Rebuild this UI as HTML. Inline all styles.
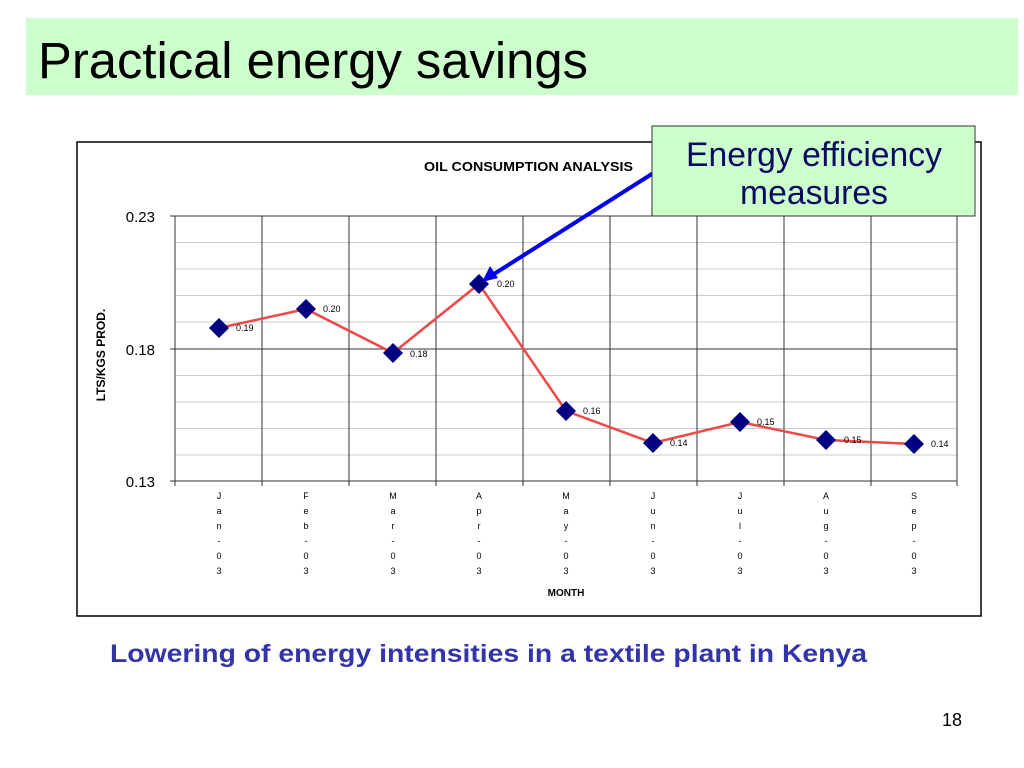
<!DOCTYPE html>
<html><head><style>
body{margin:0;width:1024px;height:768px;background:#fff;position:relative;overflow:hidden;font-family:"Liberation Sans",sans-serif}
.t{position:absolute;left:26px;top:18px;width:992px;height:77px;background:#ccffcc}
</style></head><body>
<div class="t"></div>
<svg width="1024" height="768" style="position:absolute;left:0;top:0" font-family="Liberation Sans, sans-serif">
<text x="38" y="78" font-size="51" textLength="550" lengthAdjust="spacingAndGlyphs">Practical energy savings</text>
<rect x="77" y="142" width="904" height="474" fill="#fff" stroke="#000" stroke-width="1.5"/>
<text x="424" y="171" font-size="13" font-weight="bold" textLength="209" lengthAdjust="spacingAndGlyphs">OIL CONSUMPTION ANALYSIS</text>
<g stroke="#ccc" stroke-width="1">
<line x1="175" x2="957" y1="242.5" y2="242.5"/><line x1="175" x2="957" y1="269" y2="269"/><line x1="175" x2="957" y1="295.5" y2="295.5"/><line x1="175" x2="957" y1="322" y2="322"/>
<line x1="175" x2="957" y1="375.5" y2="375.5"/><line x1="175" x2="957" y1="402" y2="402"/><line x1="175" x2="957" y1="428.5" y2="428.5"/><line x1="175" x2="957" y1="455" y2="455"/>
</g>
<g stroke="#333" stroke-width="1">
<line x1="170" x2="957" y1="216" y2="216"/><line x1="170" x2="957" y1="349" y2="349"/><line x1="170" x2="957" y1="481" y2="481"/>
<line x1="175" x2="175" y1="216" y2="486"/><line x1="262" x2="262" y1="216" y2="486"/><line x1="349" x2="349" y1="216" y2="486"/><line x1="436" x2="436" y1="216" y2="486"/><line x1="523" x2="523" y1="216" y2="486"/><line x1="610" x2="610" y1="216" y2="486"/><line x1="697" x2="697" y1="216" y2="486"/><line x1="784" x2="784" y1="216" y2="486"/><line x1="871" x2="871" y1="216" y2="486"/><line x1="957" x2="957" y1="216" y2="486"/>
</g>
<g font-size="15" text-anchor="end"><text x="155" y="222">0.23</text><text x="155" y="355">0.18</text><text x="155" y="487">0.13</text></g>
<text transform="translate(105,355) rotate(-90)" font-size="12" font-weight="bold" text-anchor="middle">LTS/KGS PROD.</text>
<polyline points="219,328 306,309 393,353 479,284 566,411 653,443 740,422 826,440 914,444" fill="none" stroke="#f04848" stroke-width="2.5"/>
<g fill="#000080">
<path d="M219,318l10,10-10,10-10-10z"/><path d="M306,299l10,10-10,10-10-10z"/><path d="M393,343l10,10-10,10-10-10z"/><path d="M479,274l10,10-10,10-10-10z"/><path d="M566,401l10,10-10,10-10-10z"/><path d="M653,433l10,10-10,10-10-10z"/><path d="M740,412l10,10-10,10-10-10z"/><path d="M826,430l10,10-10,10-10-10z"/><path d="M914,434l10,10-10,10-10-10z"/>
</g>
<g font-size="9">
<text x="236" y="331">0.19</text><text x="323" y="312">0.20</text><text x="410" y="357">0.18</text><text x="497" y="287">0.20</text><text x="583" y="414">0.16</text><text x="670" y="446">0.14</text><text x="757" y="425">0.15</text><text x="844" y="443">0.15</text><text x="931" y="447">0.14</text>
</g>
<g font-size="9" text-anchor="middle">
<text x="219" y="499">J</text><text x="219" y="514">a</text><text x="219" y="529">n</text><text x="219" y="544">-</text><text x="219" y="559">0</text><text x="219" y="574">3</text>
<text x="306" y="499">F</text><text x="306" y="514">e</text><text x="306" y="529">b</text><text x="306" y="544">-</text><text x="306" y="559">0</text><text x="306" y="574">3</text>
<text x="393" y="499">M</text><text x="393" y="514">a</text><text x="393" y="529">r</text><text x="393" y="544">-</text><text x="393" y="559">0</text><text x="393" y="574">3</text>
<text x="479" y="499">A</text><text x="479" y="514">p</text><text x="479" y="529">r</text><text x="479" y="544">-</text><text x="479" y="559">0</text><text x="479" y="574">3</text>
<text x="566" y="499">M</text><text x="566" y="514">a</text><text x="566" y="529">y</text><text x="566" y="544">-</text><text x="566" y="559">0</text><text x="566" y="574">3</text>
<text x="653" y="499">J</text><text x="653" y="514">u</text><text x="653" y="529">n</text><text x="653" y="544">-</text><text x="653" y="559">0</text><text x="653" y="574">3</text>
<text x="740" y="499">J</text><text x="740" y="514">u</text><text x="740" y="529">l</text><text x="740" y="544">-</text><text x="740" y="559">0</text><text x="740" y="574">3</text>
<text x="826" y="499">A</text><text x="826" y="514">u</text><text x="826" y="529">g</text><text x="826" y="544">-</text><text x="826" y="559">0</text><text x="826" y="574">3</text>
<text x="914" y="499">S</text><text x="914" y="514">e</text><text x="914" y="529">p</text><text x="914" y="544">-</text><text x="914" y="559">0</text><text x="914" y="574">3</text>
</g>
<text x="566" y="596" font-size="10" font-weight="bold" text-anchor="middle">MONTH</text>
<line x1="655" y1="172" x2="494" y2="274" stroke="#0000ee" stroke-width="4"/>
<path d="M482,282l8,-16 8,12z" fill="#0000ee"/>
<rect x="652" y="126" width="323" height="90" fill="#ccffcc" stroke="#333" stroke-width="1"/>
<text x="686" y="166" font-size="34" fill="#0a0a60" textLength="256" lengthAdjust="spacingAndGlyphs">Energy efficiency</text>
<text x="740" y="204" font-size="34" fill="#0a0a60" textLength="148" lengthAdjust="spacingAndGlyphs">measures</text>
<text x="110" y="662" font-size="25" font-weight="bold" fill="#3333aa" textLength="757" lengthAdjust="spacingAndGlyphs">Lowering of energy intensities in a textile plant in Kenya</text>
<text x="962" y="726" font-size="18" text-anchor="end">18</text>
</svg>
</body></html>
